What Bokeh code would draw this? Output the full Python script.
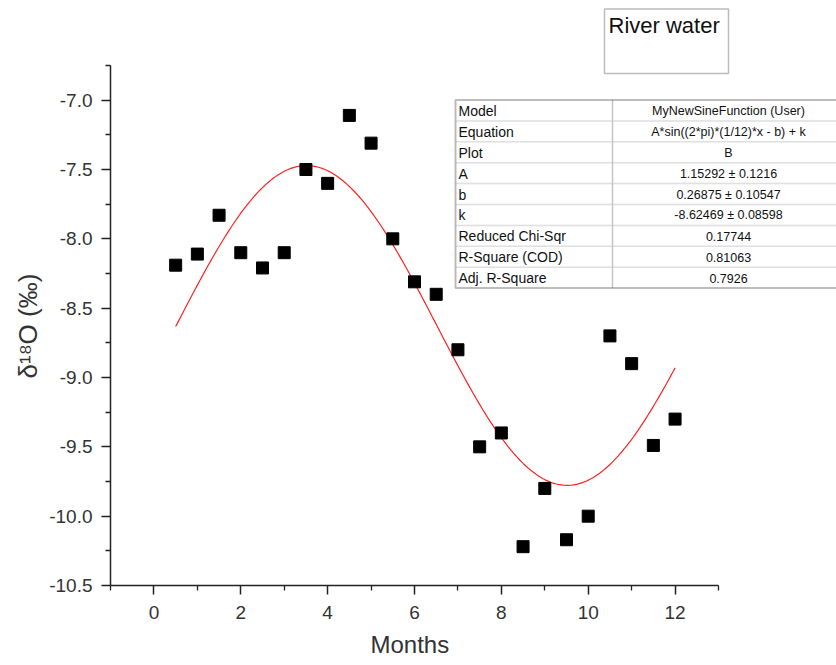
import numpy as np
from bokeh.plotting import figure
from bokeh.models import BoxAnnotation, Label, Range1d, FixedTicker, CustomJSTickFormatter, Title
from bokeh.embed import file_html
from bokeh.resources import INLINE

# ---- data ----
months = [0.5, 1.0, 1.5, 2.0, 2.5, 3.0, 3.5, 4.0, 4.5, 5.0, 5.5, 6.0,
          6.5, 7.0, 7.5, 8.0, 8.5, 9.0, 9.5, 10.0, 10.5, 11.0, 11.5, 12.0]
d18o = [-8.19, -8.11, -7.83, -8.10, -8.21, -8.10, -7.50, -7.60, -7.11, -7.31, -8.00, -8.31,
        -8.40, -8.80, -9.50, -9.40, -10.22, -9.80, -10.17, -10.00, -8.70, -8.90, -9.49, -9.30]

# fit parameters (from the fit table)
fit_A = 1.15292
fit_b = 0.26875
fit_k = -8.62469
fit_x0, fit_x1 = 0.5, 12.0

table_labels = ["Model", "Equation", "Plot", "A", "b", "k",
                "Reduced Chi-Sqr", "R-Square (COD)", "Adj. R-Square"]
table_values = ["MyNewSineFunction (User)", "A*sin((2*pi)*(1/12)*x - b) + k", "B",
                "1.15292 \u00b1 0.1216", "0.26875 \u00b1 0.10547", "-8.62469 \u00b1 0.08598",
                "0.17744", "0.81063", "0.7926"]

x_ticks = [0, 2, 4, 6, 8, 10, 12]
x_minor_ticks = [-1, 1, 3, 5, 7, 9, 11, 13]
y_ticks = [-10.5, -10.0, -9.5, -9.0, -8.5, -8.0, -7.5, -7.0]
y_minor_ticks = [-10.25, -9.75, -9.25, -8.75, -8.25, -7.75, -7.25, -6.75]
x_axis_bounds = (-1, 13)
y_axis_bounds = (-10.5, -6.75)

x_title = "Months"
y_title = "\u03b4\u00b9\u2078O (\u2030)"
box_title = "River water"

FONT = "Liberation Sans"
AX = "#222222"

W, H = 836, 665
FX0, FX1 = 110.0, 718.0      # px of x = -1 and x = 13
FY0, FY1 = 65.0, 585.0       # px of y = -6.75 and y = -10.5
XU = (FX1 - FX0) / (x_axis_bounds[1] - x_axis_bounds[0])
YU = (FY1 - FY0) / (y_axis_bounds[1] - y_axis_bounds[0])

def xd(px):
    return x_axis_bounds[0] + (px - FX0) / XU

def yd(py):
    return y_axis_bounds[1] - (py - FY0) / YU

# frame spans to the top/right edges so the table and the box are visible;
# the axes themselves are limited with bounds
p = figure(width=W, height=H, output_backend="svg", toolbar_location=None,
           x_range=Range1d(xd(FX0), xd(W)), y_range=Range1d(yd(FY1), yd(0)),
           min_border_left=int(FX0), min_border_right=0, min_border_top=0,
           min_border_bottom=int(H - FY1))
p.outline_line_color = None
p.grid.visible = False
p.background_fill_color = "white"
p.border_fill_color = "white"

# fit curve
xf = np.linspace(fit_x0, fit_x1, 300)
yf = fit_A * np.sin((2 * np.pi) * (1 / 12) * xf - fit_b) + fit_k
p.line(xf, yf, line_color="#ff2020", line_width=1.2)

# data points
p.scatter(months, d18o, marker="square", size=12, fill_color="black", line_color="black")

# axes
for ax in (p.xaxis[0], p.yaxis[0]):
    ax.axis_line_color = AX
    ax.axis_line_width = 1.5
    ax.major_tick_line_color = AX
    ax.minor_tick_line_color = AX
    ax.major_tick_line_width = 1.5
    ax.minor_tick_line_width = 1.3
    ax.major_tick_out = 9
    ax.major_tick_in = 0
    ax.minor_tick_out = 5
    ax.minor_tick_in = 0
    ax.major_label_text_font = FONT
    ax.major_label_text_color = "#333333"

p.xaxis.bounds = x_axis_bounds
p.xaxis.ticker = FixedTicker(ticks=x_ticks, minor_ticks=x_minor_ticks)
p.xaxis.major_label_text_font_size = "19px"
p.xaxis.major_label_standoff = 11

p.yaxis.bounds = y_axis_bounds
p.yaxis.ticker = FixedTicker(ticks=y_ticks, minor_ticks=y_minor_ticks)
p.yaxis.formatter = CustomJSTickFormatter(code="return tick.toFixed(1);")
p.yaxis.major_label_text_font_size = "19px"
p.yaxis.major_label_standoff = 9

# axis titles, positioned along the bounded axes (not the whole frame)
p.add_layout(Title(text=x_title, align="left", offset=260, standoff=15,
                   text_font=FONT, text_font_size="24px", text_font_style="normal",
                   text_color="#333333"), "below")
p.add_layout(Title(text=y_title, align="left", offset=207, standoff=8,
                   text_font=FONT, text_font_size="26px", text_font_style="normal",
                   text_color="#333333"), "left")

# ---- fit table ----
T_L, T_R, T_T = 455.0, 850.0, 99.5
ROW_H = 20.9
T_DIV = 612.0
n = len(table_labels)
T_B = T_T + ROW_H * n

p.add_layout(BoxAnnotation(left=xd(T_L), right=xd(T_R), top=yd(T_T), bottom=yd(T_B),
                           fill_color="white", fill_alpha=1.0, line_color=None))
for i in range(n):
    top = T_T + i * ROW_H
    p.add_layout(BoxAnnotation(left=xd(T_L), right=xd(T_R), top=yd(top), bottom=yd(top + ROW_H),
                               fill_alpha=0, line_color="#c4c4c4", line_width=1.5))
    cy = yd(top + ROW_H / 2 + 0.5)
    p.add_layout(Label(x=xd(T_L + 3), y=cy, text=table_labels[i], text_font=FONT,
                       text_font_size="14px", text_color="#111111",
                       text_align="left", text_baseline="middle"))
    p.add_layout(Label(x=xd(728), y=cy, text=table_values[i], text_font=FONT,
                       text_font_size="12.5px", text_color="#111111",
                       text_align="center", text_baseline="middle"))
p.add_layout(BoxAnnotation(left=xd(T_DIV - 0.75), right=xd(T_DIV + 0.75), top=yd(T_T), bottom=yd(T_B),
                           fill_color="#c4c4c4", fill_alpha=1.0, line_color=None))
p.add_layout(BoxAnnotation(left=xd(T_L), right=xd(T_R), top=yd(T_T), bottom=yd(T_B),
                           fill_alpha=0, line_color="#444444", line_width=2))

# ---- "River water" box ----
p.add_layout(BoxAnnotation(left=xd(604), right=xd(728), top=yd(8.5), bottom=yd(73),
                           fill_color="white", fill_alpha=1.0, line_color="#222222", line_width=1.5))
p.add_layout(Label(x=xd(608), y=yd(12), text=box_title, text_font=FONT,
                   text_font_size="22px", text_color="#111111",
                   text_align="left", text_baseline="top"))

open("out.html", "w").write(file_html(p, INLINE))
